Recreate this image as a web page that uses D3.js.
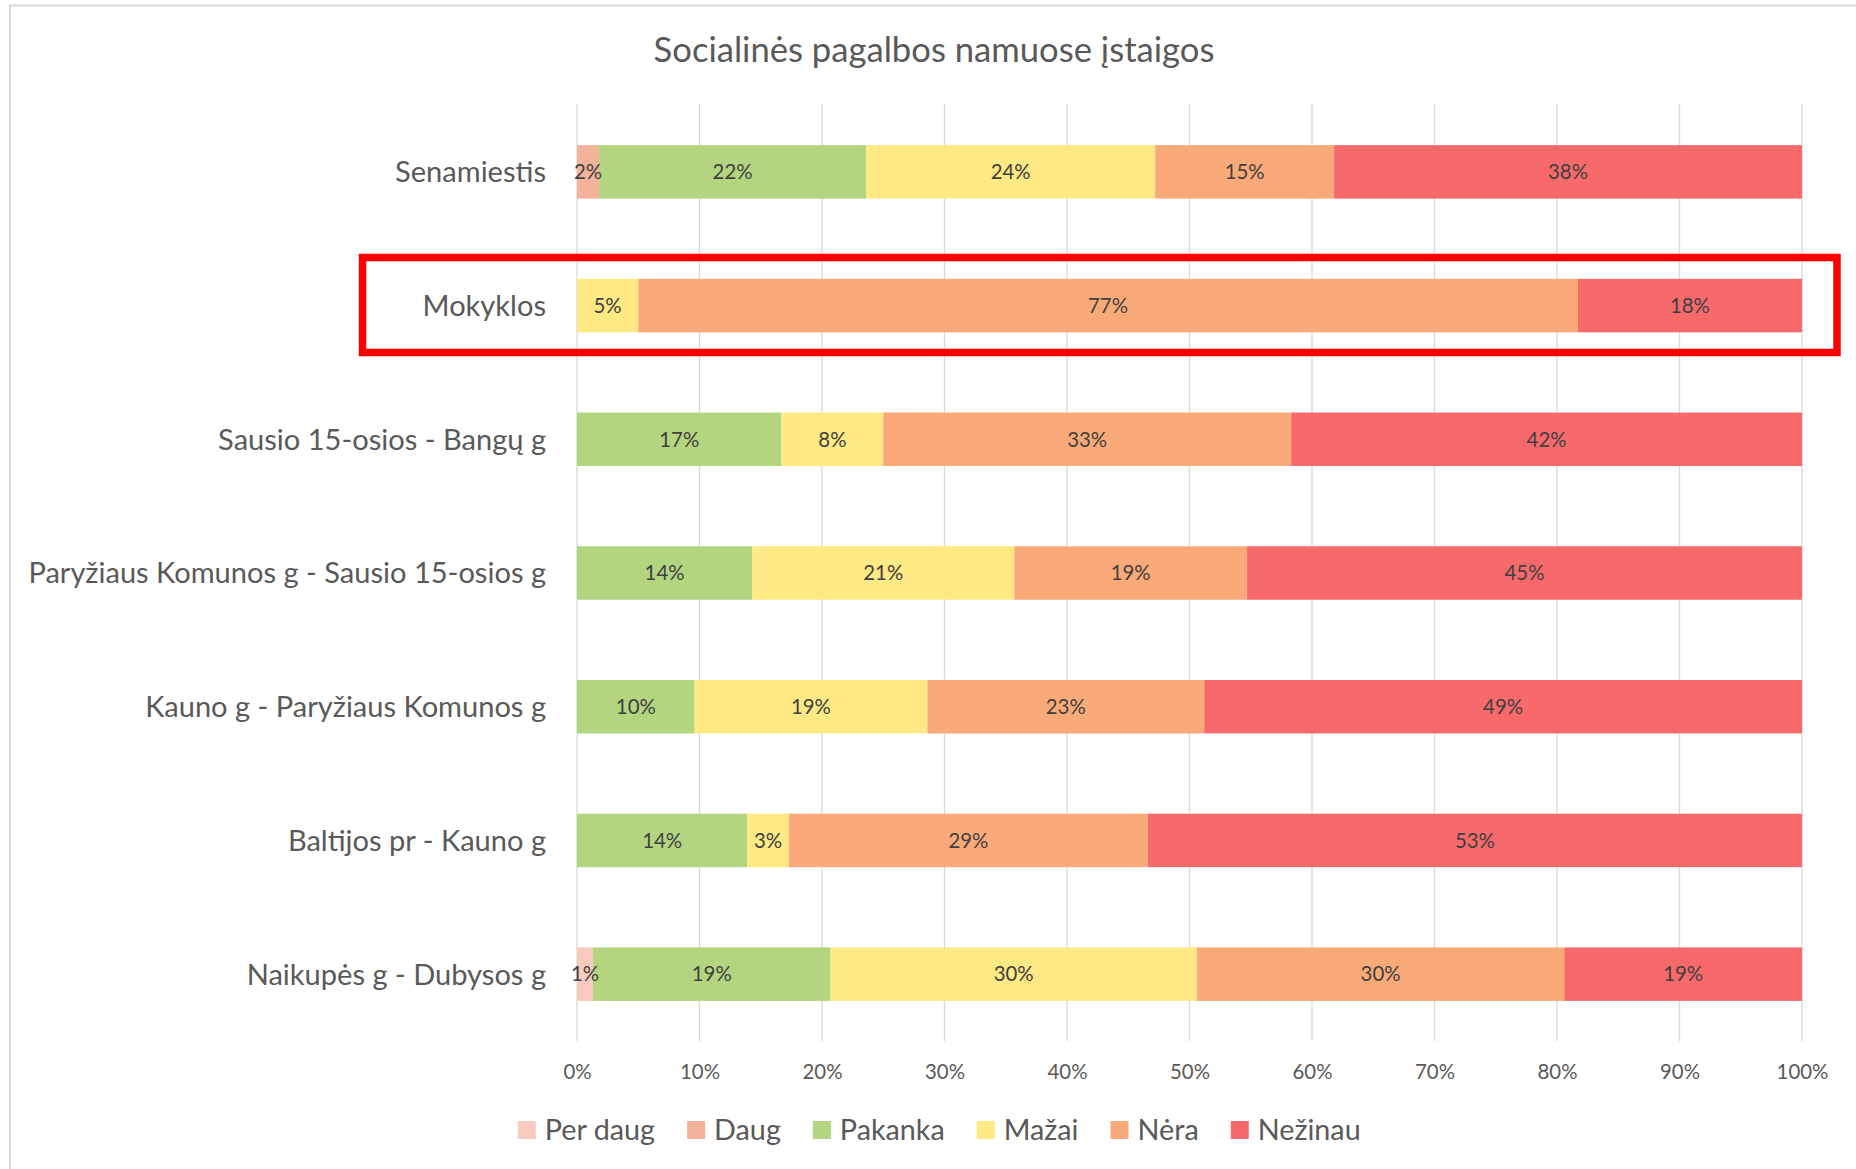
<!DOCTYPE html>
<html>
<head>
<meta charset="utf-8">
<script src="https://cdn.jsdelivr.net/npm/d3@7"></script>
<style>
  html, body { margin: 0; padding: 0; background: #ffffff; }
  svg { display: block; }
  text { font-family: Lato, "Open Sans", sans-serif; }
</style>
</head>
<body>
<svg id="chart" width="1856" height="1169"></svg>
<script>
// ---- Data (percent of respondents) ----
const title = "Socialinės pagalbos namuose įstaigos";
const categories = [
  "Senamiestis",
  "Mokyklos",
  "Sausio 15-osios - Bangų g",
  "Paryžiaus Komunos g - Sausio 15-osios g",
  "Kauno g - Paryžiaus Komunos g",
  "Baltijos pr - Kauno g",
  "Naikupės g - Dubysos g"
];
const seriesNames = ["Per daug", "Daug", "Pakanka", "Mažai", "Nėra", "Nežinau"];
const perDaug = [0, 0, 0, 0, 0, 0, 1.3];
const daug    = [1.8, 0, 0, 0, 0, 0, 0];
const pakanka = [21.8, 0, 16.7, 14.3, 9.6, 13.9, 19.4];
const mazai   = [23.6, 5.0, 8.3, 21.4, 19.0, 3.4, 29.9];
const nera    = [14.6, 76.7, 33.3, 19.0, 22.6, 29.3, 30.0];
const nezinau = [38.2, 18.3, 41.7, 45.3, 48.8, 53.4, 19.4];
const xTickValues = [0, 0.1, 0.2, 0.3, 0.4, 0.5, 0.6, 0.7, 0.8, 0.9, 1.0];
const highlighted = "Mokyklos";

const seriesValues = [perDaug, daug, pakanka, mazai, nera, nezinau];
const colors = ["#F8CBBE", "#F4B29B", "#B3D580", "#FFE984", "#FAAA78", "#F8696B"];

// table for d3.stack
const table = categories.map((c, i) => {
  const row = { category: c };
  seriesNames.forEach((s, j) => { row[s] = seriesValues[j][i]; });
  return row;
});

const svg = d3.select("#chart");
const W = 1856, H = 1169;

// helper: font size so that a sample string has the target width
function fitSize(sample, target, weight) {
  const t = svg.append("text").attr("font-size", 100).attr("font-weight", weight || 400).text(sample);
  const w = t.node().getComputedTextLength();
  t.remove();
  return 100 * target / w;
}
const CAP = 0.7165; // Lato cap height ratio

const fsTitle = fitSize(title, 561);
const fsCat = fitSize("Paryžiaus Komunos g - Sausio 15-osios g", 518);
const fsTick = fitSize("10%", 40);

// chart frame (top & left border)
svg.append("line").attr("x1", 10).attr("x2", W).attr("y1", 5.5).attr("y2", 5.5)
  .attr("stroke", "#D9D9D9").attr("stroke-width", 2);
svg.append("line").attr("x1", 10).attr("x2", 10).attr("y1", 5).attr("y2", H)
  .attr("stroke", "#D9D9D9").attr("stroke-width", 2);

// scales
const x = d3.scaleLinear().domain([0, 1]).range([577, 1802]);
const y = d3.scaleBand().domain(categories).range([105, 1041]).paddingInner(0.6).paddingOuter(0.3);

// gridlines
svg.append("g").selectAll("line").data(xTickValues).join("line")
  .attr("x1", d => x(d)).attr("x2", d => x(d))
  .attr("y1", 104).attr("y2", 1041)
  .attr("stroke", "#D9D9D9").attr("stroke-width", 1.3);

// stacked bars
const stack = d3.stack().keys(seriesNames).offset(d3.stackOffsetExpand);
const layers = stack(table);

const gLayers = svg.append("g").selectAll("g").data(layers).join("g")
  .attr("fill", (d, i) => colors[i]);
gLayers.selectAll("rect").data(d => d.map(p => ({ p, key: d.key }))).join("rect")
  .attr("x", d => x(d.p[0]))
  .attr("width", d => Math.max(0, x(d.p[1]) - x(d.p[0])))
  .attr("y", d => y(d.p.data.category))
  .attr("height", y.bandwidth());

// data labels
const labels = [];
layers.forEach(layer => {
  layer.forEach(p => {
    const v = p.data[layer.key];
    if (v > 0) labels.push({ cx: (x(p[0]) + x(p[1])) / 2, cat: p.data.category, text: Math.round(v) + "%" });
  });
});
svg.append("g").selectAll("text").data(labels).join("text")
  .attr("x", d => d.cx)
  .attr("y", d => y(d.cat) + y.bandwidth() / 2 + CAP * fsTick / 2)
  .attr("text-anchor", "middle")
  .attr("font-size", fsTick)
  .attr("fill", "#404040")
  .text(d => d.text);

// x axis
const xAxis = svg.append("g").call(
  d3.axisBottom(x).tickValues(xTickValues).tickFormat(d3.format(".0%")).tickSize(0)
);
xAxis.select(".domain").remove();
xAxis.selectAll("text")
  .attr("y", 1071.7 + CAP * fsTick / 2).attr("dy", null)
  .attr("font-size", fsTick).attr("fill", "#595959")
  .style("font-family", "Lato, sans-serif");

// y axis (category labels)
const yAxis = svg.append("g").attr("transform", "translate(577,0)").call(
  d3.axisLeft(y).tickSize(0).tickPadding(31)
);
yAxis.select(".domain").remove();
yAxis.selectAll("text")
  .attr("dy", null)
  .attr("y", CAP * fsCat / 2)
  .attr("font-size", fsCat).attr("fill", "#595959")
  .style("font-family", "Lato, sans-serif");

// title
svg.append("text")
  .attr("x", 934).attr("y", 49.5 + CAP * fsTitle / 2)
  .attr("text-anchor", "middle")
  .attr("font-size", fsTitle).attr("fill", "#595959")
  .text(title);

// legend
const sq = 18, sqGap = 9, itemGap = 32;
const legendTarget = 1361 - 517.8;
function legendWidth(fs) {
  let total = 0;
  seriesNames.forEach((s, i) => {
    const t = svg.append("text").attr("font-size", fs).text(s);
    total += sq + sqGap + t.node().getComputedTextLength();
    t.remove();
    if (i < seriesNames.length - 1) total += itemGap;
  });
  return total;
}
const fixedPart = seriesNames.length * (sq + sqGap) + (seriesNames.length - 1) * itemGap;
const textAt100 = legendWidth(100) - fixedPart;
const fsLeg = 100 * (legendTarget - fixedPart) / textAt100;

const legend = svg.append("g");
let lx = 517.8;
const ly = 1130;
seriesNames.forEach((s, i) => {
  legend.append("rect").attr("x", lx).attr("y", ly - sq / 2).attr("width", sq).attr("height", sq).attr("fill", colors[i]);
  const t = legend.append("text").attr("x", lx + sq + sqGap).attr("y", ly + CAP * fsLeg / 2)
    .attr("font-size", fsLeg).attr("fill", "#595959").text(s);
  lx += sq + sqGap + t.node().getComputedTextLength() + itemGap;
});

// highlight rectangle around the "Mokyklos" row
svg.append("rect")
  .attr("x", 362.5).attr("y", 257.5)
  .attr("width", 1837 - 362.5).attr("height", 95)
  .attr("fill", "none").attr("stroke", "#FF0000").attr("stroke-width", 7.5);
</script>
</body>
</html>
